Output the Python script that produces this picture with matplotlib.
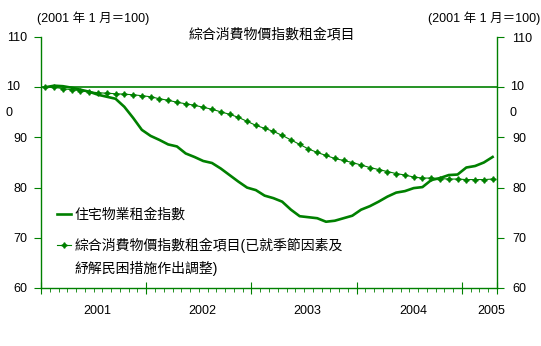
import numpy as np
import matplotlib
matplotlib.use("Agg")
import matplotlib.pyplot as plt
import matplotlib.transforms as mtransforms

plt.rcParams['font.family'] = ['Liberation Sans', 'Noto Sans CJK TC']

# monthly data, Jan 2001 - Apr 2005 (2001年1月=100)
rent_index = [100.0, 100.3, 100.2, 99.9, 99.5, 99.1, 98.5, 98.1, 97.7, 96.1,
              93.9, 91.5, 90.3, 89.5, 88.6, 88.2, 86.8, 86.1, 85.3, 84.9,
              83.8, 82.5, 81.2, 80.0, 79.5, 78.4, 77.9, 77.2, 75.6, 74.3,
              74.1, 73.9, 73.2, 73.4, 73.9, 74.4, 75.6, 76.3, 77.2, 78.2,
              79.0, 79.3, 79.9, 80.1, 81.5, 81.9, 82.5, 82.6, 84.0, 84.3,
              85.0, 86.1]
cpi_rent = [100.0, 100.0, 99.7, 99.5, 99.3, 99.1, 98.9, 98.8, 98.7, 98.6,
            98.5, 98.3, 98.1, 97.7, 97.4, 97.0, 96.7, 96.4, 96.0, 95.6,
            95.1, 94.6, 94.0, 93.2, 92.4, 91.8, 91.2, 90.4, 89.5, 88.6,
            87.7, 87.0, 86.4, 85.8, 85.4, 85.0, 84.5, 84.0, 83.6, 83.2,
            82.8, 82.5, 82.1, 81.9, 81.9, 81.8, 81.7, 81.7, 81.6, 81.6,
            81.6, 81.7]
years = ['2001', '2002', '2003', '2004', '2005']
year_label_pos = [5.9, 17.9, 29.9, 41.9, 50.8]
yticks = [60, 70, 80, 90, 100, 110]
ytick_labels = ['60', '70', '80', '90', '', '110']

green = '#008000'
W, H = 541, 346

fig = plt.figure(figsize=(W / 100, H / 100), dpi=100)
ax = fig.add_axes([41 / W, 1 - 288 / H, (497 - 41) / W, (288 - 37) / H])

x = np.arange(len(rent_index))
ax.plot(x, rent_index, color=green, lw=1.9, label='住宅物業租金指數')
ax.plot(x, cpi_rent, color=green, lw=0.8, marker=(4, 1, 0), ms=4,
        label='綜合消費物價指數租金項目(已就季節因素及')
ax.axhline(100, color=green, lw=1.2)

ax.set_xlim(-0.5, len(x) - 0.5)
ax.set_ylim(60, 110)

for s in ['left', 'right', 'bottom']:
    ax.spines[s].set_color(green)
    ax.spines[s].set_linewidth(1.0)
ax.spines['top'].set_visible(False)

# x axis: month ticks, year ticks crossing the axis
ax.set_xticks([-0.5, 11.5, 23.5, 35.5, 47.5, 51.5])
ax.set_xticks(np.arange(-0.5, len(x), 1), minor=True)
ax.set_xticklabels([])
ax.tick_params(axis='x', which='major', direction='inout', length=8, color=green)
ax.tick_params(axis='x', which='minor', direction='out', length=3, color=green)
for pos, yr in zip(year_label_pos, years):
    ax.text(pos, -0.092, yr, transform=ax.get_xaxis_transform(),
            ha='center', va='center', fontsize=9)

ax.set_yticks(yticks)
ax.set_yticklabels(ytick_labels)
ax.tick_params(axis='y', direction='out', length=5, color=green, labelsize=9, pad=5)

ax2 = ax.twinx()
ax2.set_ylim(60, 110)
ax2.set_yticks(yticks)
ax2.set_yticklabels(ytick_labels)
ax2.tick_params(axis='y', direction='out', length=5, color=green, labelsize=9, pad=6)
for s in ['left', 'right', 'bottom', 'top']:
    ax2.spines[s].set_visible(False)

# wrapped "100" labels as in the original
tr = mtransforms.blended_transform_factory(fig.transFigure, ax.transData)
for xp in [6 / W, 510 / W]:
    ax.text(xp, 100, '10', transform=tr, ha='left', va='center', fontsize=9)
    ax.text(xp, 94.8, '0', transform=tr, ha='left', va='center', fontsize=9)

fig.text(272 / W, 1 - 35 / H, '綜合消費物價指數租金項目', ha='center', va='center', fontsize=10)
fig.text(37 / W, 1 - 18 / H, '(2001 年 1 月＝100)', ha='left', va='center', fontsize=9)
fig.text(540 / W, 1 - 18 / H, '(2001 年 1 月＝100)', ha='right', va='center', fontsize=9)

leg = ax.legend(loc='upper left', bbox_to_anchor=(57 / W, 1 - 208 / H),
                bbox_transform=fig.transFigure, frameon=False, fontsize=10,
                handlelength=1.0, handletextpad=0.25, borderpad=0, numpoints=1,
                borderaxespad=0, labelspacing=1.1)
# second line of the wrapped legend label
fig.text(74 / W, 1 - 268 / H, '紓解民困措施作出調整)', ha='left', va='center', fontsize=10)

fig.savefig('out.png', dpi=100)
